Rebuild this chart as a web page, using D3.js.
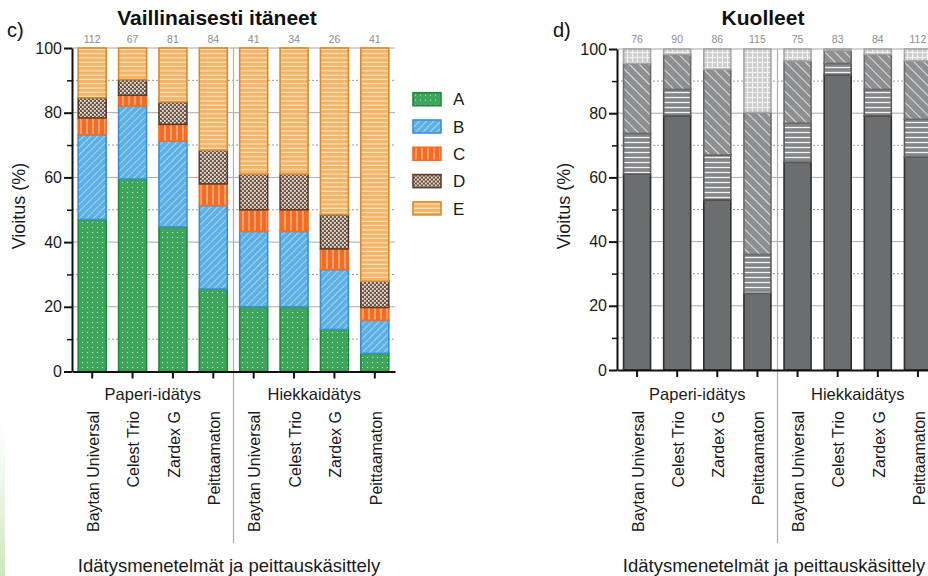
<!DOCTYPE html>
<html><head><meta charset="utf-8">
<script src="https://cdn.jsdelivr.net/npm/d3@7"></script>
<style>html,body{margin:0;padding:0;background:#fff;}svg{display:block;font-family:"Liberation Sans",Arial,sans-serif;}</style>
</head><body>
<script>
// ---------- DATA ----------
const methods = ["Paperi-idätys", "Hiekkaidätys"];
const treatments = ["Baytan Universal", "Celest Trio", "Zardex G", "Peittaamaton"];
const yTicks = [0, 20, 40, 60, 80, 100];
const yMinorTicks = [10, 30, 50, 70, 90];

// c) Vaillinaisesti itäneet
const countsC = [112, 67, 81, 84, 41, 34, 26, 41];
const seriesC = ["A", "B", "C", "D", "E"];
const cA = [47.0, 59.5, 44.7, 25.5, 20.0, 20.0, 13.0, 5.6];
const cB = [26.2, 22.5, 26.5, 25.8, 23.3, 23.3, 18.5, 10.2];
const cC = [5.2, 3.4, 5.2, 6.7, 6.7, 6.7, 6.4, 4.0];
const cD = [6.2, 4.8, 6.9, 10.4, 11.0, 11.0, 10.6, 8.1];
const cE = [15.4, 9.8, 16.7, 31.6, 39.0, 39.0, 51.5, 72.1];

// d) Kuolleet
const countsD = [76, 90, 86, 115, 75, 83, 84, 112];
const seriesD = ["d1", "d2", "d3", "d4"];
const d1 = [61.0, 79.2, 53.0, 23.9, 64.7, 91.9, 79.2, 66.3];
const d2 = [12.7, 8.2, 14.0, 12.1, 12.2, 3.6, 8.2, 11.8];
const d3v = [21.8, 10.9, 26.7, 44.2, 19.4, 4.0, 10.9, 18.2];
const d4 = [4.5, 1.7, 6.3, 19.8, 3.7, 0.5, 1.7, 3.7];

// ---------- BUILD ----------
const categories = [];
methods.forEach(m => treatments.forEach(t => categories.push({ m, t })));

function table(keys, arrays) {
  return categories.map((c, i) => {
    const r = { i };
    keys.forEach((k, j) => r[k] = arrays[j][i]);
    return r;
  });
}
const rowsC = table(seriesC, [cA, cB, cC, cD, cE]);
const rowsD = table(seriesD, [d1, d2, d3v, d4]);

const svg = d3.select("body").append("svg").attr("width", 928).attr("height", 576);
const defs = svg.append("defs");

// faint green edge
const lg = defs.append("linearGradient").attr("id", "edge").attr("x1", 0).attr("x2", 0).attr("y1", 0).attr("y2", 1);
lg.append("stop").attr("offset", "0").attr("stop-color", "#d7ebcc").attr("stop-opacity", 0);
lg.append("stop").attr("offset", "1").attr("stop-color", "#cfe6c2").attr("stop-opacity", 1);
svg.append("rect").attr("x", 0).attr("y", 420).attr("width", 5).attr("height", 156).attr("fill", "url(#edge)");

function pattern(id, size, bg, draw, transform) {
  const p = defs.append("pattern").attr("id", id).attr("patternUnits", "userSpaceOnUse")
    .attr("width", size).attr("height", size);
  if (transform) p.attr("patternTransform", transform);
  p.append("rect").attr("width", size).attr("height", size).attr("fill", bg);
  draw(p, size);
}
// left patterns
pattern("pA", 5, "#3ea55d", (p) => p.append("circle").attr("cx", 2.5).attr("cy", 2.5).attr("r", 0.6).attr("fill", "#d8f0dc"));
pattern("pB", 5, "#5cb0e4", (p, s) => p.append("line").attr("x1", 0).attr("y1", 0).attr("x2", 0).attr("y2", s).attr("stroke", "#d6ecfa").attr("stroke-width", 1.2), "rotate(45)");
pattern("pC", 6, "#f36c24", (p, s) => p.append("line").attr("x1", 3).attr("y1", 0).attr("x2", 3).attr("y2", s).attr("stroke", "#fcd2b8").attr("stroke-width", 1));
pattern("pD", 4, "#6e5545", (p) => {
  p.append("rect").attr("x", 0).attr("y", 0).attr("width", 1.8).attr("height", 1.8).attr("fill", "#e9e1d8");
  p.append("rect").attr("x", 2).attr("y", 2).attr("width", 1.8).attr("height", 1.8).attr("fill", "#e9e1d8");
});
pattern("pE", 4.3, "#f2b467", (p, s) => p.append("line").attr("x1", 0).attr("y1", 2).attr("x2", s).attr("y2", 2).attr("stroke", "#fde6c6").attr("stroke-width", 1.1));
// right patterns
pattern("q1", 4, "#6c6d6f", () => {});
pattern("q2", 5, "#858688", (p, s) => p.append("line").attr("x1", 0).attr("y1", 2.5).attr("x2", s).attr("y2", 2.5).attr("stroke", "#f2f2f2").attr("stroke-width", 1.3));
pattern("q3", 7, "#8e8f91", (p, s) => p.append("line").attr("x1", 0).attr("y1", 0).attr("x2", 0).attr("y2", s).attr("stroke", "#f4f4f4").attr("stroke-width", 1.6), "rotate(-45)");
pattern("q4", 5, "#cdcdcd", (p, s) => {
  p.append("line").attr("x1", 0).attr("y1", 2.5).attr("x2", s).attr("y2", 2.5).attr("stroke", "#f4f4f4").attr("stroke-width", 1.1);
  p.append("line").attr("x1", 2.5).attr("y1", 0).attr("x2", 2.5).attr("y2", s).attr("stroke", "#f4f4f4").attr("stroke-width", 1.1);
});

const stylesC = {
  A: { fill: "url(#pA)", stroke: "#1f8b3b" },
  B: { fill: "url(#pB)", stroke: "#3b90d4" },
  C: { fill: "url(#pC)", stroke: "#f36c24" },
  D: { fill: "url(#pD)", stroke: "#574030" },
  E: { fill: "url(#pE)", stroke: "#d98a2e" }
};
const stylesD = {
  d1: { fill: "url(#q1)", stroke: "#2e2e2e" },
  d2: { fill: "url(#q2)", stroke: "#5a5a5a" },
  d3: { fill: "url(#q3)", stroke: "#6a6a6a" },
  d4: { fill: "url(#q4)", stroke: "#a5a5a5" }
};

function panel(o) {
  const g = svg.append("g");
  const x = d3.scaleBand().domain(d3.range(categories.length)).range([o.x0, o.x1])
    .paddingInner(o.pad).paddingOuter(o.pad / 2);
  const y = d3.scaleLinear().domain([0, 100]).range([o.yb, o.yt]);

  // gridlines
  g.append("g").selectAll("line").data(yTicks.filter(v => v > 0)).join("line")
    .attr("x1", o.x0).attr("x2", o.x1).attr("y1", d => y(d)).attr("y2", d => y(d))
    .attr("stroke", "#a8a8a8").attr("stroke-width", 1);
  g.append("g").selectAll("line").data(yMinorTicks).join("line")
    .attr("x1", o.x0).attr("x2", o.x1).attr("y1", d => y(d)).attr("y2", d => y(d))
    .attr("stroke", "#9a9a9a").attr("stroke-width", 1).attr("stroke-dasharray", "2,2");

  // separator
  const sepX = o.x0 + x.step() * treatments.length;
  g.append("line").attr("x1", sepX).attr("x2", sepX).attr("y1", o.yt).attr("y2", 543)
    .attr("stroke", "#b0b0b0").attr("stroke-width", 1.2);

  // bars
  const stacked = d3.stack().keys(o.keys)(o.rows);
  g.append("g").selectAll("g").data(stacked).join("g")
    .attr("fill", d => o.styles[d.key].fill).attr("stroke", d => o.styles[d.key].stroke)
    .attr("stroke-width", 1.6)
    .selectAll("rect").data(d => d).join("rect")
    .attr("x", d => x(d.data.i)).attr("width", x.bandwidth())
    .attr("y", d => y(d[1])).attr("height", d => Math.max(0, y(d[0]) - y(d[1])));

  // axes
  const ya = g.append("g").attr("transform", `translate(${o.x0},0)`)
    .call(d3.axisLeft(y).tickValues(yTicks).tickSize(8).tickPadding(2).tickSizeOuter(0));
  ya.select(".domain").attr("stroke-width", 2).attr("stroke", "#111");
  ya.selectAll(".tick line").attr("stroke-width", 2).attr("stroke", "#111");
  ya.selectAll(".tick text").attr("font-size", 16).attr("fill", "#1a1a1a").attr("font-family", "Liberation Sans, Arial, sans-serif");
  const ym = g.append("g").attr("transform", `translate(${o.x0},0)`)
    .call(d3.axisLeft(y).tickValues(yMinorTicks).tickSize(5).tickFormat("").tickSizeOuter(0));
  ym.select(".domain").remove();
  ym.selectAll(".tick line").attr("stroke-width", 1.5).attr("stroke", "#111");

  const xa = g.append("g").attr("transform", `translate(0,${o.yb})`)
    .call(d3.axisBottom(x).tickSize(7).tickFormat("").tickSizeOuter(0));
  xa.select(".domain").attr("stroke-width", 2).attr("stroke", "#111");
  xa.selectAll(".tick line").attr("stroke-width", 2).attr("stroke", "#111");

  // counts
  g.append("g").selectAll("text").data(o.counts).join("text")
    .attr("x", (d, i) => x(i) + x.bandwidth() / 2).attr("y", 43)
    .attr("text-anchor", "middle").attr("font-size", 10.5).attr("fill", "#8c8c8c").text(d => d);

  // category labels (rotated)
  g.append("g").selectAll("text").data(categories).join("text")
    .attr("transform", (d, i) => `translate(${x(i) + x.bandwidth() / 2},411) rotate(-90)`)
    .attr("dy", "0.42em").attr("text-anchor", "end").attr("font-size", 16).attr("fill", "#1a1a1a")
    .text(d => d.t);

  // group labels
  g.append("g").selectAll("text").data(methods).join("text")
    .attr("x", (d, k) => (x(k * 4) + x(k * 4 + 3) + x.bandwidth()) / 2).attr("y", 400)
    .attr("text-anchor", "middle").attr("font-size", 16.5).attr("fill", "#1a1a1a").text(d => d);

  // texts
  g.append("text").attr("x", o.xTitleX).attr("y", 572).attr("text-anchor", "middle")
    .attr("font-size", 18.5).attr("fill", "#1a1a1a").text("Idätysmenetelmät ja peittauskäsittely");
  g.append("text").attr("transform", `translate(${o.yLabX},206) rotate(-90)`).attr("text-anchor", "middle")
    .attr("font-size", 18).attr("fill", "#1a1a1a").text("Vioitus (%)");
  g.append("text").attr("x", o.titleX).attr("y", 25).attr("text-anchor", "middle")
    .attr("font-size", 21).attr("font-weight", "bold").attr("fill", "#111").text(o.title);
  g.append("text").attr("x", o.tagX).attr("y", 37).attr("font-size", 20).attr("fill", "#111").text(o.tag);
  return { x, y };
}

panel({ x0: 72, x1: 395, pad: 0.307, yb: 371.5, yt: 48, rows: rowsC, keys: seriesC, styles: stylesC,
  counts: countsC, title: "Vaillinaisesti itäneet", titleX: 217, tag: "c)", tagX: 7, yLabX: 25, xTitleX: 229 });
panel({ x0: 617, x1: 938, pad: 0.327, yb: 370, yt: 49, rows: rowsD, keys: seriesD, styles: stylesD,
  counts: countsD, title: "Kuolleet", titleX: 763, tag: "d)", tagX: 553, yLabX: 570, xTitleX: 774 });

// legend for c)
const leg = svg.append("g").selectAll("g").data(seriesC).join("g")
  .attr("transform", (d, i) => `translate(413,${92.7 + i * 27.3})`);
leg.append("rect").attr("width", 28).attr("height", 13)
  .attr("fill", d => stylesC[d].fill).attr("stroke", d => stylesC[d].stroke).attr("stroke-width", 1.6);
leg.append("text").attr("x", 40).attr("y", 6.5).attr("dy", "0.36em").attr("font-size", 17)
  .attr("fill", "#1a1a1a").text(d => d);
</script>
</body></html>
